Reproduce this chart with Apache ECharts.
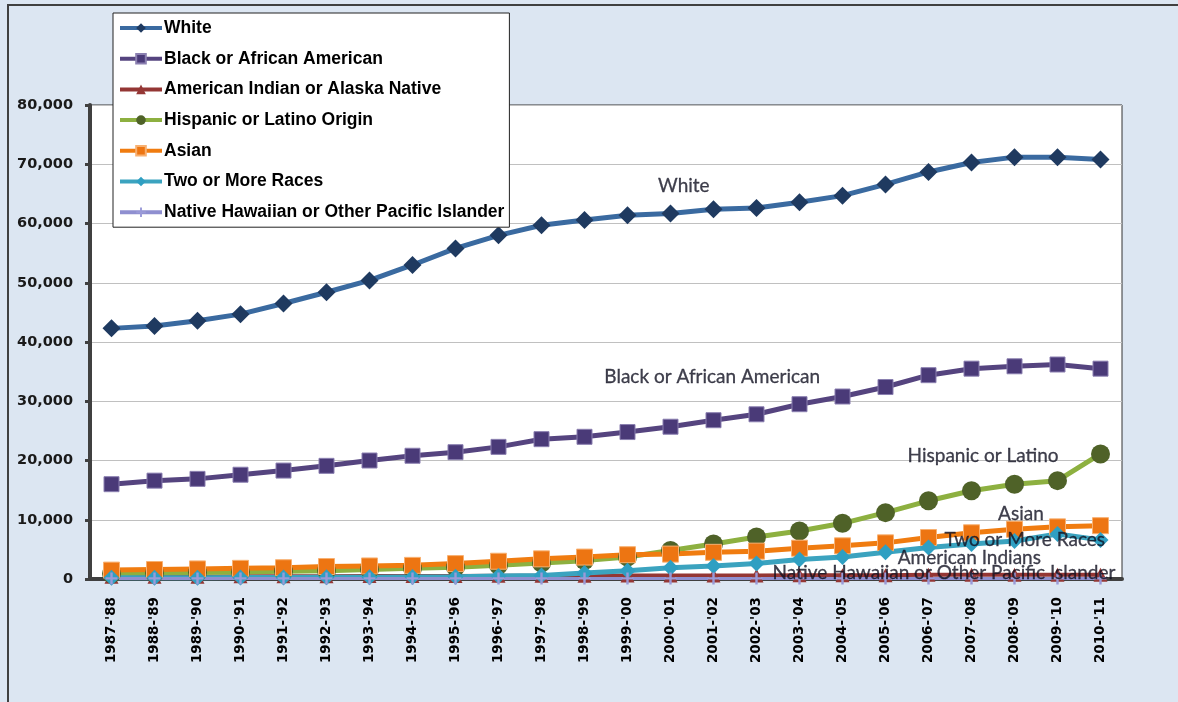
<!DOCTYPE html>
<html>
<head>
<meta charset="utf-8">
<script src="https://cdn.jsdelivr.net/npm/echarts@6/dist/echarts.min.js"></script>
<style>
html,body{margin:0;padding:0;background:#dce6f2;}
#chart{width:1178px;height:702px;}
</style>
</head>
<body>
<div id="chart"></div>
<script>
const categories = ["1987-'88","1988-'89","1989-'90","1990-'91","1991-'92","1992-'93","1993-'94","1994-'95","1995-'96","1996-'97","1997-'98","1998-'99","1999-'00","2000-'01","2001-'02","2002-'03","2003-'04","2004-'05","2005-'06","2006-'07","2007-'08","2008-'09","2009-'10","2010-'11"];
const white = [42300,42700,43600,44700,46500,48400,50400,53000,55800,58000,59700,60600,61400,61700,62400,62600,63600,64700,66600,68700,70300,71200,71200,70800];
const black = [16000,16600,16900,17600,18300,19100,20000,20800,21400,22300,23600,24000,24800,25700,26800,27800,29500,30800,32400,34400,35500,35900,36200,35500];
const amIndian = [400,400,400,450,450,450,500,500,500,550,550,550,600,600,600,600,650,650,650,700,700,700,700,700];
const hispanic = [900,1000,1100,1200,1300,1400,1600,1800,2000,2300,2700,3100,3700,4800,5900,7100,8100,9400,11200,13200,14900,16000,16600,21100];
const asian = [1500,1600,1700,1800,1900,2100,2200,2300,2600,3000,3400,3700,4100,4200,4500,4700,5200,5600,6100,7000,7800,8400,8800,9000];
const twoMore = [200,200,200,250,250,300,300,350,400,500,600,1000,1400,1900,2200,2600,3300,3700,4500,5300,5900,6400,7600,6600];
const natHawaiian = [100,100,100,100,100,100,100,100,100,100,100,100,100,100,100,100,100,100,100,100,100,100,100,100];
const yTicks = [0,10000,20000,30000,40000,50000,60000,70000,80000];

// in-chart annotation labels (x in category-index units, y in data units)
const annTexts = ['White','Black or African American','Hispanic or Latino','Asian','Two or More Races','American Indians','Native Hawaiian or Other Pacific Islander'];
const annX = [13.31, 13.97, 20.27, 21.15, 21.24, 19.95, 19.36];
const annY = [66300, 34100, 20800, 11000, 6600, 3500, 1000];

const seriesNames = ['White','Black or African American','American Indian or Alaska Native','Hispanic or Latino Origin','Asian','Two or More Races','Native Hawaiian or Other Pacific Islander'];
const plus = 'path://M4,0H6V4H10V6H6V10H4V6H0V4H4Z';

const chart = echarts.init(document.getElementById('chart'));
chart.setOption({
  animation:false,
  backgroundColor:'#dce6f2',
  graphic:[{type:'rect', shape:{x:8,y:5,width:1220,height:740}, style:{fill:'none', stroke:'#404040', lineWidth:2}, silent:true, z:-1}],
  grid:{left:90, right:56, top:105, bottom:123, show:true, backgroundColor:'#ffffff', borderColor:'#333333', borderWidth:1},
  legend:{
    data:seriesNames,
    orient:'vertical', left:113, top:13,
    backgroundColor:'#ffffff', borderColor:'#222', borderWidth:1,
    padding:[6,5,6,5], itemGap:12.7, itemWidth:42, itemHeight:12,
    lineStyle:{width:4},
    textStyle:{fontFamily:'"Liberation Sans", Arial, sans-serif', fontWeight:'bold', fontSize:17.5, color:'#000', padding:[0,0,0,-3]},
    z:10
  },
  xAxis:[{
    type:'category', data:categories, boundaryGap:true,
    axisLine:{onZero:false, lineStyle:{color:'#404040', width:4}},
    axisTick:{show:false},
    axisLabel:{rotate:90, margin:18, fontFamily:'"DejaVu Sans", Verdana, sans-serif', fontWeight:'bold', fontSize:13.5, color:'#000'},
    splitLine:{show:false}
  },{
    type:'value', min:-0.5, max:categories.length-0.5, show:false
  }],
  yAxis:{
    type:'value', min:yTicks[0], max:yTicks[yTicks.length-1], interval:10000,
    axisLine:{show:true, onZero:false, lineStyle:{color:'#404040', width:4}},
    axisTick:{show:true, length:5, lineStyle:{color:'#404040', width:3}},
    axisLabel:{margin:17, fontFamily:'"DejaVu Sans", Verdana, sans-serif', fontWeight:'bold', fontSize:14.5, color:'#1a1a1a',
      formatter:v=>v.toLocaleString('en-US')},
    splitLine:{lineStyle:{color:'#c0c0c0', width:1}}
  },
  series:[
    {name:seriesNames[0], type:'line', data:white, symbol:'diamond', symbolSize:18,
      lineStyle:{color:'#3a6aa0', width:5}, itemStyle:{color:'#1f3a60'}},
    {name:seriesNames[1], type:'line', data:black, symbol:'rect', symbolSize:15,
      lineStyle:{color:'#55447f', width:5}, itemStyle:{color:'#4a3a78', borderColor:'#8a7fb0', borderWidth:1}},
    {name:seriesNames[2], type:'line', data:amIndian, symbol:'triangle', symbolSize:14,
      lineStyle:{color:'#943634', width:4}, itemStyle:{color:'#953735'}},
    {name:seriesNames[3], type:'line', data:hispanic, symbol:'circle', symbolSize:19,
      lineStyle:{color:'#8db040', width:5}, itemStyle:{color:'#4f6228'}},
    {name:seriesNames[4], type:'line', data:asian, symbol:'rect', symbolSize:16,
      lineStyle:{color:'#f07c10', width:5}, itemStyle:{color:'#ed7512', borderColor:'#f8b070', borderWidth:1}},
    {name:seriesNames[5], type:'line', data:twoMore, symbol:'diamond', symbolSize:16,
      lineStyle:{color:'#3ba3bf', width:5}, itemStyle:{color:'#2f9fc2'}},
    {name:seriesNames[6], type:'line', data:natHawaiian, symbol:plus, symbolSize:12,
      lineStyle:{color:'#8f8fd0', width:3}, itemStyle:{color:'#9a9ad8'}},
    {name:'annotations', type:'scatter', xAxisIndex:1, symbolSize:0, silent:true, z:20,
      data:annTexts.map((t,i)=>[annX[i], annY[i], t]),
      label:{show:true, position:'inside', formatter:p=>p.data[2],
        fontFamily:'Lato, "Open Sans", sans-serif', fontSize:19, color:'#101020', textBorderColor:'#101020', textBorderWidth:0.3}}
  ]
});
</script>
</body>
</html>
